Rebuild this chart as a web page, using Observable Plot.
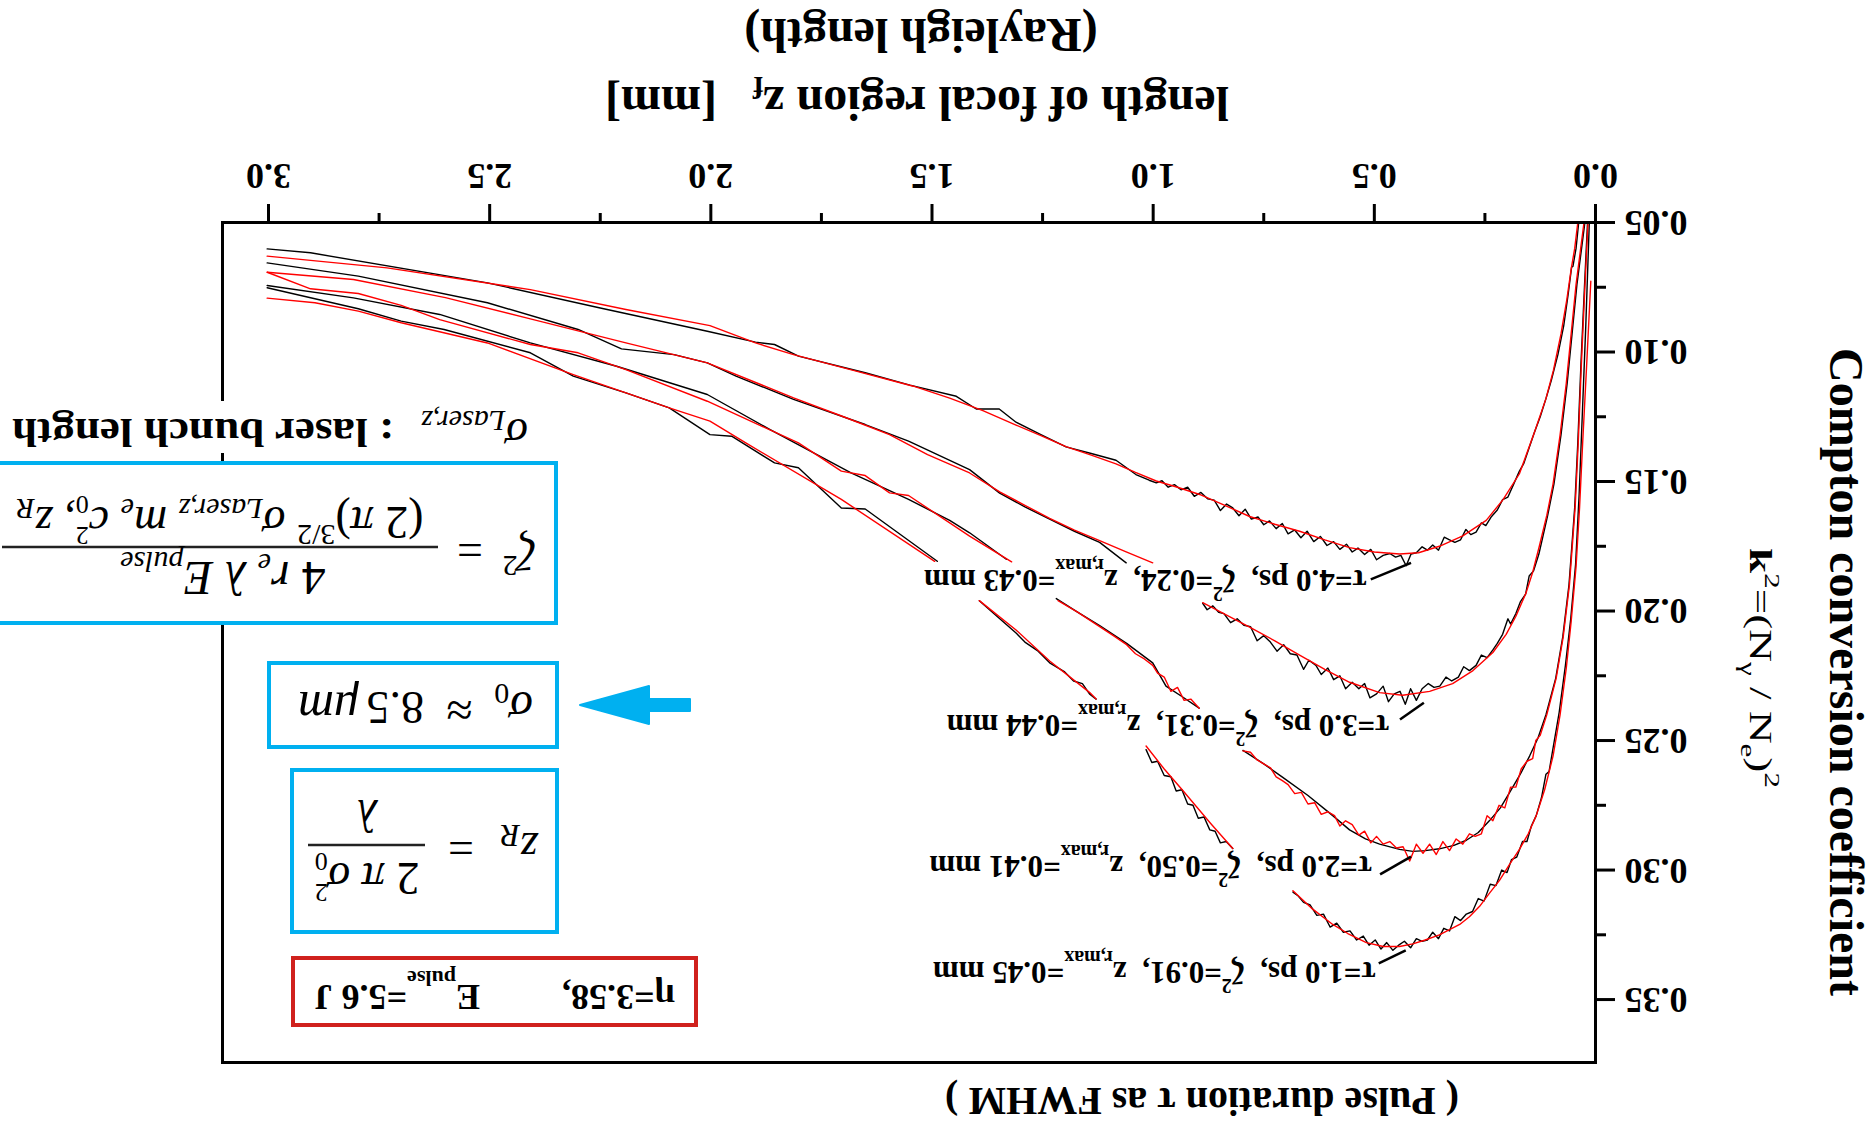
<!DOCTYPE html>
<html><head><meta charset="utf-8">
<script src="https://cdn.jsdelivr.net/npm/d3@7"></script>
<script src="https://cdn.jsdelivr.net/npm/@observablehq/plot@0.6"></script>
<style>
html,body{margin:0;padding:0;background:#fff;overflow:hidden;width:1873px;height:1131px}
#root{position:absolute;left:0;top:0;width:1873px;height:1131px;transform:rotate(180deg);transform-origin:50% 50%;background:#fff;overflow:hidden}
#root svg{position:absolute;left:0;top:0}
</style></head><body><div id="root"></div><script>
const W = 1873, H = 1131;
const FONT = "'Liberation Serif','Times New Roman',serif";

// ---- axis ticks ----
const xMajor = [0, 0.5, 1.0, 1.5, 2.0, 2.5, 3.0];
const xMinor = [0.25, 0.75, 1.25, 1.75, 2.25, 2.75];
const yMajor = [0.05, 0.10, 0.15, 0.20, 0.25, 0.30, 0.35];
const yMinor = [0.075, 0.125, 0.175, 0.225, 0.275, 0.325];

// ---- curves (x = z_f in mm, y = k^2); null = gap behind a label ----
const tau4Black = [[0.038,0.050],[0.044,0.060],[0.051,0.0669],[0.054,0.0672],[0.062,0.078],[0.072,0.090],[0.085,0.101],[0.100,0.111],[0.112,0.118],[0.125,0.125],[0.138,0.131],[0.150,0.137],[0.162,0.143],[0.172,0.146],[0.185,0.151],[0.198,0.156],[0.210,0.157],[0.222,0.161],[0.235,0.1635],[0.248,0.167],[0.258,0.166],[0.270,0.1695],[0.282,0.1705],[0.293,0.1685],[0.305,0.1725],[0.318,0.1735],[0.330,0.1725],[0.342,0.1715],[0.355,0.1765],[0.368,0.1745],[0.380,0.1765],[0.392,0.1752],[0.405,0.1775],[0.417,0.178],[0.428,0.1825],[0.440,0.1785],[0.452,0.1792],[0.465,0.1778],[0.480,0.1785],[0.495,0.1802],[0.508,0.1762],[0.522,0.1782],[0.537,0.1757],[0.550,0.1772],[0.563,0.1742],[0.578,0.1762],[0.592,0.1732],[0.607,0.1747],[0.622,0.1712],[0.637,0.1732],[0.652,0.1692],[0.666,0.1717],[0.680,0.1687],[0.695,0.1702],[0.708,0.1662],[0.722,0.1682],[0.737,0.1652],[0.750,0.1667],[0.763,0.1637],[0.778,0.1645],[0.792,0.1607],[0.806,0.1632],[0.820,0.1602],[0.834,0.1587],[0.848,0.1612],[0.862,0.1572],[0.877,0.1567],[0.892,0.1542],[0.907,0.1557],[0.922,0.1522],[0.937,0.1532],[0.952,0.1512],[0.966,0.1522],[0.980,0.1497],[0.993,0.1505],[1.009,0.1495],[1.039,0.1473],[1.084,0.1418],[1.140,0.1392],[1.197,0.1366],[1.255,0.1318],[1.310,0.1271],[1.348,0.1220],[1.400,0.1220],[1.445,0.1171],[1.550,0.1128],[1.651,0.1080],[1.802,0.1016],[1.856,0.0971],[1.899,0.0962],[2.008,0.0920],[2.250,0.0830],[2.505,0.0733],[2.905,0.0617],[3.003,0.0602]];
const tau4Red = [[0.040,0.050],[0.047,0.060],[0.055,0.068],[0.065,0.080],[0.078,0.093],[0.095,0.107],[0.112,0.118],[0.138,0.131],[0.172,0.147],[0.209,0.157],[0.247,0.165],[0.300,0.171],[0.353,0.175],[0.400,0.1775],[0.443,0.178],[0.500,0.1772],[0.556,0.1755],[0.612,0.1725],[0.669,0.1692],[0.725,0.1665],[0.782,0.1635],[0.838,0.1592],[0.895,0.1550],[0.945,0.1522],[0.993,0.1498],[1.040,0.1465],[1.084,0.1432],[1.140,0.1398],[1.197,0.1365],[1.255,0.1322],[1.310,0.1282],[1.385,0.1226],[1.460,0.1178],[1.542,0.1132],[1.680,0.1070],[1.813,0.1010],[1.899,0.0965],[2.002,0.0898],[2.192,0.0836],[2.408,0.0759],[2.732,0.0675],[3.003,0.0630]];

const tau3Black = [[0.024,0.050],[0.033,0.062],[0.042,0.074],[0.053,0.093],[0.064,0.112],[0.078,0.132],[0.094,0.151],[0.108,0.163],[0.120,0.172],[0.128,0.178],[0.140,0.1845],[0.150,0.1865],[0.158,0.1935],[0.170,0.1965],[0.180,0.2010],[0.192,0.2050],[0.198,0.2030],[0.210,0.2090],[0.222,0.2125],[0.232,0.2150],[0.245,0.2180],[0.258,0.2170],[0.270,0.2210],[0.285,0.2230],[0.298,0.2215],[0.310,0.2255],[0.325,0.2270],[0.338,0.2255],[0.352,0.2290],[0.365,0.2295],[0.378,0.2280],[0.392,0.2300],[0.405,0.2345],[0.418,0.2300],[0.430,0.2360],[0.442,0.2310],[0.455,0.2320],[0.468,0.2350],[0.480,0.2290],[0.495,0.2320],[0.510,0.2335],[0.522,0.2280],[0.535,0.2300],[0.550,0.2275],[0.565,0.2300],[0.578,0.2250],[0.592,0.2265],[0.605,0.2220],[0.620,0.2245],[0.632,0.2210],[0.648,0.2190],[0.660,0.2225],[0.675,0.2170],[0.690,0.2165],[0.705,0.2130],[0.720,0.2155],[0.735,0.2120],[0.750,0.2095],[0.765,0.2115],[0.780,0.2060],[0.795,0.2055],[0.810,0.2030],[0.825,0.2045],[0.840,0.2010],[0.852,0.2005],[0.865,0.1980],[0.878,0.1995],[0.888,0.1970],null,[1.061,0.1814],[1.121,0.1735],[1.178,0.1692],[1.234,0.1645],[1.290,0.1598],[1.347,0.1545],[1.415,0.1454],[1.553,0.1344],[1.651,0.1280],[1.813,0.1183],[1.943,0.1093],[2.008,0.1042],[2.083,0.1010],[2.202,0.0988],[2.300,0.0913],[2.505,0.0810],[2.797,0.0707],[3.003,0.0656]];
const tau3Red = [[0.026,0.050],[0.035,0.062],[0.044,0.074],[0.055,0.093],[0.066,0.112],[0.080,0.132],[0.096,0.151],[0.110,0.163],[0.127,0.175],[0.142,0.185],[0.157,0.193],[0.180,0.202],[0.202,0.209],[0.232,0.216],[0.277,0.223],[0.323,0.228],[0.375,0.231],[0.436,0.2325],[0.488,0.2315],[0.556,0.2275],[0.612,0.2225],[0.669,0.2170],[0.725,0.2115],[0.782,0.2062],[0.835,0.2015],[0.888,0.1968],null,[1.001,0.1814],[1.061,0.1772],[1.121,0.1728],[1.178,0.1688],[1.234,0.1642],[1.290,0.1592],[1.347,0.1540],[1.415,0.1467],[1.510,0.1396],[1.596,0.1319],[1.700,0.1250],[1.813,0.1177],[2.008,0.1042],[2.192,0.0965],[2.408,0.0872],[2.600,0.0790],[2.808,0.0720],[3.003,0.0692]];

const tau2Black = [[0.018,0.050],[0.025,0.075],[0.033,0.105],[0.040,0.135],[0.047,0.160],[0.060,0.190],[0.074,0.210],[0.090,0.226],[0.112,0.240],[0.130,0.249],[0.149,0.256],[0.170,0.263],[0.194,0.270],[0.215,0.276],[0.240,0.281],[0.265,0.2855],[0.292,0.2885],[0.320,0.2905],[0.353,0.2918],[0.385,0.2925],[0.413,0.2928],[0.443,0.2920],[0.488,0.2900],[0.520,0.2880],[0.556,0.2845],[0.594,0.2790],[0.650,0.2712],[0.707,0.2642],[0.750,0.2590],[0.797,0.2538],null,[0.896,0.2375],[0.935,0.2330],[0.971,0.2290],[1.001,0.2200],[1.060,0.2125],[1.121,0.2056],[1.170,0.2005],[1.219,0.1952],null,[1.332,0.1800],[1.415,0.1698],[1.460,0.1650],[1.553,0.1569],[1.683,0.1467],[1.867,0.1299],[2.008,0.1164],[2.213,0.1055],[2.408,0.0965],[2.613,0.0855],[2.808,0.0791],[3.003,0.0743]];
const tau2Red = [[0.017,0.050],[0.024,0.075],[0.032,0.105],[0.039,0.135],[0.046,0.160],[0.059,0.190],[0.073,0.210],[0.089,0.226],[0.110,0.240],[0.125,0.248],[0.135,0.250],[0.142,0.257],[0.155,0.258],[0.168,0.261],[0.180,0.268],[0.192,0.268],[0.205,0.276],[0.218,0.275],[0.232,0.281],[0.245,0.279],[0.258,0.286],[0.272,0.287],[0.285,0.286],[0.300,0.290],[0.315,0.288],[0.330,0.2925],[0.345,0.289],[0.360,0.294],[0.375,0.290],[0.390,0.2935],[0.405,0.290],[0.420,0.2965],[0.435,0.291],[0.450,0.2915],[0.465,0.289],[0.480,0.290],[0.495,0.287],[0.508,0.2895],[0.522,0.285],[0.535,0.2865],[0.550,0.2825],[0.565,0.281],[0.578,0.283],[0.590,0.279],[0.605,0.2775],[0.620,0.2785],[0.635,0.274],[0.650,0.2745],[0.665,0.270],[0.680,0.2705],[0.695,0.267],[0.708,0.2655],[0.722,0.264],[0.735,0.2605],[0.750,0.259],[0.765,0.2575],[0.780,0.2545],[0.797,0.254],null,[0.896,0.2375],[0.915,0.234],[0.930,0.2345],[0.945,0.2295],[0.960,0.231],[0.975,0.2255],[0.990,0.224],[1.001,0.221],[1.020,0.2185],[1.040,0.2165],[1.060,0.213],[1.090,0.2095],[1.121,0.2060],[1.170,0.2005],[1.215,0.1960],null,[1.320,0.1810],[1.415,0.1711],[1.553,0.1554],[1.596,0.1544],[1.651,0.1477],[1.705,0.1460],[1.802,0.1351],[2.008,0.1190],[2.192,0.1068],[2.300,0.1003],[2.408,0.0971],[2.613,0.0875],[2.700,0.0820],[2.797,0.0774],[2.905,0.0756],[3.003,0.0692]];

const tau1Black = [[0.014,0.050],[0.022,0.090],[0.030,0.125],[0.037,0.155],[0.045,0.182],[0.056,0.203],[0.068,0.221],[0.082,0.239],[0.097,0.254],[0.105,0.262],[0.112,0.263],[0.122,0.272],[0.134,0.279],[0.145,0.283],[0.155,0.289],[0.165,0.289],[0.178,0.295],[0.190,0.296],[0.200,0.301],[0.212,0.300],[0.225,0.306],[0.238,0.3055],[0.252,0.312],[0.265,0.311],[0.278,0.316],[0.292,0.317],[0.305,0.3195],[0.318,0.318],[0.330,0.3235],[0.343,0.3225],[0.355,0.3265],[0.368,0.324],[0.380,0.327],[0.392,0.3275],[0.405,0.3265],[0.418,0.330],[0.432,0.3275],[0.445,0.329],[0.458,0.331],[0.472,0.328],[0.485,0.3305],[0.498,0.327],[0.512,0.329],[0.525,0.3255],[0.540,0.327],[0.555,0.3235],[0.570,0.324],[0.585,0.3205],[0.600,0.322],[0.615,0.317],[0.630,0.3175],[0.645,0.3135],[0.660,0.3125],[0.672,0.310],[0.684,0.3085],null,[0.820,0.2917],[0.835,0.289],[0.848,0.2895],[0.860,0.285],[0.872,0.2845],[0.885,0.2795],[0.898,0.280],[0.910,0.275],[0.922,0.2745],[0.935,0.269],[0.948,0.2695],[0.960,0.264],[0.975,0.2635],[0.990,0.258],[1.003,0.2585],[1.016,0.2535],null,[1.129,0.2340],[1.144,0.2320],[1.160,0.228],[1.180,0.227],[1.200,0.2235],[1.234,0.2200],[1.260,0.2155],[1.290,0.212],[1.310,0.2085],[1.350,0.2025],[1.393,0.1960],null,[1.488,0.1808],[1.651,0.1606],[1.705,0.1602],[1.802,0.1447],[1.856,0.1428],[1.953,0.1325],[2.002,0.1319],[2.094,0.1216],[2.192,0.1158],[2.311,0.1093],[2.408,0.1003],[2.603,0.0913],[2.700,0.0881],[2.797,0.0833],[3.003,0.0752]];
const tau1Red = [[0.0106,0.0727],[0.020,0.105],[0.029,0.135],[0.036,0.160],[0.044,0.183],[0.055,0.204],[0.066,0.222],[0.080,0.240],[0.096,0.256],[0.115,0.269],[0.134,0.279],[0.152,0.286],[0.172,0.292],[0.195,0.298],[0.217,0.304],[0.240,0.309],[0.262,0.314],[0.285,0.318],[0.307,0.321],[0.330,0.323],[0.353,0.325],[0.385,0.327],[0.413,0.3285],[0.443,0.3295],[0.480,0.3295],[0.518,0.328],[0.560,0.3245],[0.594,0.321],[0.640,0.315],[0.684,0.308],null,[0.820,0.2917],[0.870,0.282],[0.933,0.2693],[0.975,0.261],[1.016,0.2521],null,[1.129,0.2340],[1.144,0.2314],[1.234,0.2193],[1.310,0.2073],[1.393,0.1960],null,[1.494,0.1808],[1.705,0.1569],[1.921,0.1351],[2.002,0.1267],[2.094,0.1216],[2.311,0.1087],[2.505,0.0965],[2.700,0.0887],[2.797,0.0842],[2.895,0.0810],[3.003,0.0792]];

// ---- curve labels ----
const labelText = ["τ=1.0 ps,  ζ^{2}=0.91,  z_{r,max}=0.45 mm","τ=2.0 ps,  ζ^{2}=0.50,  z_{r,max}=0.41 mm","τ=3.0 ps,  ζ^{2}=0.31,  z_{r,max}=0.44 mm","τ=4.0 ps,  ζ^{2}=0.24,  z_{r,max}=0.43 mm"];
const labelX = [0.497, 0.505, 0.466, 0.517];
const labelY = [0.3394, 0.2983, 0.2438, 0.1878];
const connX1 = [0.490, 0.487, 0.442, 0.508];
const connY1 = [0.336, 0.3017, 0.2419, 0.1878];
const connX2 = [0.429, 0.417, 0.388, 0.417];
const connY2 = [0.331, 0.2948, 0.2354, 0.1814];

// ---- build tables ----
function rows(id, pts) {
  return pts.map(p => p ? {id, x: p[0], y: p[1]} : {id, x: NaN, y: NaN});
}
const blackRows = [...rows("t1", tau1Black), ...rows("t2", tau2Black), ...rows("t3", tau3Black), ...rows("t4", tau4Black)];
const redRows = [...rows("t1", tau1Red), ...rows("t2", tau2Red), ...rows("t3", tau3Red), ...rows("t4", tau4Red)];
const labels = labelText.map((t, i) => ({text: t, x: labelX[i], y: labelY[i]}));
const conns = connX1.map((_, i) => ({x1: connX1[i], y1: connY1[i], x2: connX2[i], y2: connY2[i]}));

const chart = Plot.plot({
  width: W, height: H,
  marginLeft: 277, marginRight: 223, marginTop: 68, marginBottom: 223,
  x: {domain: [0, 3.104], label: null},
  y: {domain: [0.05, 0.3743], label: null},
  style: {fontFamily: FONT, fontSize: "36px", fontWeight: "bold", color: "black", background: "white", overflow: "visible"},
  marks: [
    Plot.axisX({ticks: xMajor, tickSize: 19, tickPadding: 14, tickFormat: d3.format(".1f"), strokeWidth: 3, label: null}),
    Plot.axisX({ticks: xMinor, tickSize: 10, tickFormat: () => "", strokeWidth: 3, label: null}),
    Plot.axisY({ticks: yMajor, tickSize: 19, tickPadding: 10, tickFormat: d3.format(".2f"), strokeWidth: 3, label: null}),
    Plot.axisY({ticks: yMinor, tickSize: 10, tickFormat: () => "", strokeWidth: 3, label: null}),
    Plot.line(blackRows, {x: "x", y: "y", z: "id", stroke: "black", strokeWidth: 1.4}),
    Plot.line(redRows, {x: "x", y: "y", z: "id", stroke: "#ff0000", strokeWidth: 1.4}),
    Plot.link(conns, {x1: "x1", y1: "y1", x2: "x2", y2: "y2", stroke: "black", strokeWidth: 2.5}),
    Plot.text(labels, {x: "x", y: "y", text: "text", textAnchor: "start", lineAnchor: "middle", fontSize: 31, fontWeight: "bold", fontFamily: FONT, fill: "black"}),
    Plot.frame({stroke: "black", strokeWidth: 3})
  ]
});
const root = document.getElementById("root");
root.appendChild(chart);

// convert ^{..} and _{..} markup into tspans
function richify(el, small, supShift, subShift) {
  const raw = el.textContent;
  if (!/[\^_]\{/.test(raw)) return;
  const segs = []; let i = 0, buf = "";
  while (i < raw.length) {
    if ((raw[i] === "^" || raw[i] === "_") && raw[i + 1] === "{") {
      if (buf) segs.push({t: buf, k: 0}); buf = "";
      const j = raw.indexOf("}", i);
      segs.push({t: raw.slice(i + 2, j), k: raw[i] === "^" ? 1 : -1});
      i = j + 1;
    } else { buf += raw[i]; i++; }
  }
  if (buf) segs.push({t: buf, k: 0});
  while (el.firstChild) el.removeChild(el.firstChild);
  el.style.whiteSpace = "pre";
  let cur = 0;
  for (const s of segs) {
    const ts = d3.select(el).append("tspan").text(s.t);
    const sh = s.k === 1 ? -supShift : s.k === -1 ? subShift : 0;
    if (sh !== cur) ts.attr("dy", sh - cur);
    cur = sh;
    if (s.k) ts.attr("font-size", small);
  }
}
d3.select(chart).selectAll("text").each(function () { richify(this, 20, 17, 11); });

// ---- overlay: titles and annotations ----
const ov = d3.select(root).append("svg").attr("width", W).attr("height", H)
  .attr("font-family", FONT).style("overflow", "visible");

function rich(g, x, y, segs, o = {}) {
  const t = g.append("text").attr("x", x).attr("y", y)
    .attr("text-anchor", o.anchor || "start")
    .attr("font-size", o.size || 36)
    .attr("font-weight", o.weight || "normal")
    .attr("font-style", o.style || "normal")
    .attr("fill", o.fill || "black")
    .style("white-space", "pre");
  if (o.transform) t.attr("transform", o.transform);
  if (o.length) t.attr("textLength", o.length).attr("lengthAdjust", "spacingAndGlyphs");
  let cur = 0;
  for (const s of segs) {
    const [txt, p = {}] = s;
    const ts = t.append("tspan").text(txt);
    const sh = p.shift || 0;
    if (sh !== cur) ts.attr("dy", sh - cur);
    cur = sh;
    if (p.size) ts.attr("font-size", p.size);
    if (p.style) ts.attr("font-style", p.style);
    if (p.weight) ts.attr("font-weight", p.weight);
    if (p.dx) ts.attr("dx", p.dx);
  }
  return t;
}
const BLUE = "#00b0f0", RED = "#d0211d";
const it = "italic";

// axis titles
rich(ov, 671, 43, [["( Pulse duration τ as FWHM )"]], {size: 40, weight: "bold", anchor: "middle"});
rich(ov, 956, 1044, [["length of focal region z"], ["f", {size: 31, shift: 10}], ["   [mm]"]], {size: 48, weight: "bold", anchor: "middle"});
rich(ov, 952, 1112, [["(Rayleigh length)"]], {size: 48, weight: "bold", anchor: "middle"});
rich(ov, 0, 0, [["Compton conversion coefficient"]], {size: 48, weight: "bold", anchor: "middle", transform: "translate(43,459) rotate(-90)"});
rich(ov, 0, 0, [["k", {weight: "bold"}], ["2", {size: 22, shift: -15}], ["=(N"], ["γ", {size: 22, shift: 9}], [" / N"], ["e", {size: 22, shift: 9}], [")"], ["2", {size: 22, shift: -15}]],
  {size: 32, anchor: "middle", length: 240, transform: "translate(123,463) rotate(-90)"});

// red parameter box
ov.append("rect").attr("x", 1177).attr("y", 106).attr("width", 403).attr("height", 67).attr("fill", "white").attr("stroke", RED).attr("stroke-width", 4);
rich(ov, 1198, 146, [["η=3.58,"]], {size: 36, weight: "bold"});
rich(ov, 1393, 146, [["E"], ["pulse", {size: 22, shift: 14}], ["=5.6 J"]], {size: 36, weight: "bold"});

// z_R box
ov.append("rect").attr("x", 1316).attr("y", 199).attr("width", 265).attr("height", 162).attr("fill", "white").attr("stroke", BLUE).attr("stroke-width", 4);
rich(ov, 1335, 298, [["z", {style: it}], ["R", {size: 32, shift: 8, style: it}]], {size: 46});
rich(ov, 1412, 298, [["="]], {size: 46, anchor: "middle"});
ov.append("line").attr("x1", 1448).attr("x2", 1565).attr("y1", 286).attr("y2", 286).attr("stroke", "#222").attr("stroke-width", 2.5);
rich(ov, 1506, 268, [["2 "], ["π", {style: it}], [" σ", {style: it}], ["0", {size: 26, shift: 10}], ["2", {size: 26, shift: -21, dx: -13}]], {size: 46, anchor: "middle"});
rich(ov, 1506, 331, [["λ", {style: it}]], {size: 46, anchor: "middle"});

// sigma0 box
ov.append("rect").attr("x", 1316).attr("y", 384).attr("width", 288).attr("height", 84).attr("fill", "white").attr("stroke", BLUE).attr("stroke-width", 4);
rich(ov, 1340, 439, [["σ", {style: it}], ["0", {size: 30, shift: 8}]], {size: 48});
rich(ov, 1414, 437, [["≈"]], {size: 48, anchor: "middle"});
rich(ov, 1449, 439, [["8.5"]], {size: 46});
rich(ov, 1514, 439, [["μm", {style: it}]], {size: 50});

// arrow
ov.append("path").attr("d", "M1183,420 H1224 V407 L1293,426 L1224,445 V432 H1183 Z").attr("fill", BLUE).attr("stroke", BLUE).attr("stroke-width", 2).attr("stroke-linejoin", "round");

// zeta^2 formula box
ov.append("rect").attr("x", 1317).attr("y", 508).attr("width", 620).attr("height", 160).attr("fill", "white").attr("stroke", BLUE).attr("stroke-width", 4);
rich(ov, 1337, 593, [["ζ", {style: it}], ["2", {size: 30, shift: -18}]], {size: 46});
rich(ov, 1403, 596, [["="]], {size: 46, anchor: "middle"});
ov.append("line").attr("x1", 1435).attr("x2", 1871).attr("y1", 584).attr("y2", 584).attr("stroke", "#222").attr("stroke-width", 2.5);
rich(ov, 1650, 569, [["4 "], ["r", {style: it}], ["e", {size: 30, shift: 8, style: it}], [" λ E", {style: it}], ["pulse", {size: 30, shift: 10, style: it}]], {size: 48, anchor: "middle"});
rich(ov, 1653, 624, [["(2 "], ["π", {style: it}], [")"], ["3/2", {size: 30, shift: -18}], [" σ", {style: it}], ["Laser,z", {size: 30, shift: 8, style: it}], [" m", {style: it}], ["e", {size: 30, shift: 8, style: it}], [" c", {style: it}], ["0", {size: 26, shift: 11}], ["2", {size: 26, shift: -20, dx: -13}], [", z", {style: it}], ["R", {size: 30, shift: 8, style: it}]], {size: 46, anchor: "middle"});

// sigma_Laser label
ov.append("rect").attr("x", 1338).attr("y", 678).attr("width", 535).attr("height", 52).attr("fill", "white");
rich(ov, 1345, 712, [["σ", {style: it, size: 46}], ["Laser,z", {size: 30, shift: 8, style: it}]], {size: 46});
rich(ov, 1479, 712, [[": laser bunch length"]], {size: 40, weight: "bold", length: 382});
</script></body></html>
